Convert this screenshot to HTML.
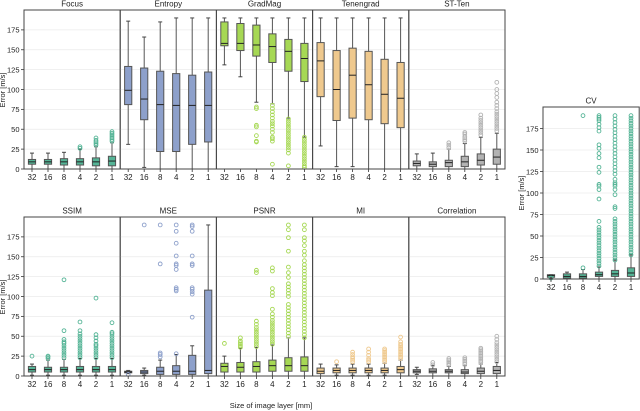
<!DOCTYPE html>
<html><head><meta charset="utf-8"><style>
body{margin:0;background:#fff}
svg{display:block;font-family:"Liberation Sans",sans-serif}
</style></head><body>
<svg id="chart" width="640" height="411" viewBox="0 0 640 411"></svg>
<script>
const categories = ["32","16","8","4","2","1"];
const yTicks = [0,25,50,75,100,125,150,175];
// box stats: [whislo, q1, median, q3, whishi]
const focusBoxes = [[0,6,9,12,20],[0,6,9,12,20],[0,5,9,13,21],[0,5,9,13,25],[0,4,9,14,28],[0,4,10,16,33]];
const focusOutliers = [[],[],[],[26,28],[30,32,34,36,39],[35,37,39,41,43,45,47]];
const entropyBoxes = [[31,81,99,129,186],[2,62,88,127,166],[0,22,81,123,185],[0,22,80,120,190],[0,31,80,118,190],[0,34,80,122,190]];
const entropyOutliers = [[],[],[],[],[],[]];
const gradmagBoxes = [[131,155,158,185,190],[116,149,158,183,190],[84,142,156,181,190],[82,134,154,170,190],[64,123,148,163,190],[40,110,139,158,190]];
const gradmagOutliers = [[],[],[78,76,55,53,42,35,34],[80,76,72,68,64,60,57,54,50,46,40,38,35,6],[63,60,57,54,51,48,45,42,39,36,33,30,27,24,20,4],[40,37,34,31,28,25,22,19,16,13,10,7,4,2]];
const tenengradBoxes = [[29,91,136,159,190],[3,61,100,149,190],[3,64,118,152,190],[0,62,106,148,190],[0,57,94,138,190],[0,52,89,134,190]];
const tenengradOutliers = [[],[],[],[],[],[]];
const stBoxes = [[0,4,7,10,19],[0,3,6,9,20],[0,3,8,11,25],[0,3,9,16,32],[0,5,11,19,40],[0,6,15,25,45]];
const stOutliers = [[],[],[27,30,33],[35,37,39,41,44,46],[43,46,49,52,55,58,61,64,68],[48,51,54,57,60,63,66,69,72,76,80,84,90,95,100,109]];
const ssimBoxes = [[1,5,8,12,15],[1,5,8,11,20],[1,5,8,11,21],[1,5,8,12,22],[1,5,8,12,22],[1,5,8,12,22]];
const ssimOutliers = [[25],[22,24,25],[23,26,29,32,35,38,41,43,46,57,121],[23,26,29,32,35,38,41,44,47,50,53,57,68],[23,26,29,32,35,38,40,44,48,52,98],[23,26,29,32,35,38,41,44,47,50,53,55,67]];
const mseBoxes = [[3,4,5,6,7],[1,3,5,7,10],[0,2,6,11,20],[0,2,6,13,27],[0,2,6,26,38],[0,3,7,108,190]];
const mseOutliers = [[2],[190],[24,27,29,141,190],[28,107,109,111,134,139,141,151,167,182,190],[74,103,106,109,111,139,141,151,182,188,190],[]];
const psnrBoxes = [[0,5,12,16,25],[0,5,11,17,35],[0,5,12,18,36],[0,6,13,20,39],[0,6,13,23,48],[0,6,13,24,48]];
const psnrOutliers = [[41],[36,38,40,42,44,48],[37,40,43,46,49,52,55,58,61,65,69,130,133],[40,43,46,49,52,55,58,61,64,67,70,74,78,84,101,105,110,132,136],[50,54,58,62,66,70,74,78,82,86,90,100,104,108,112,116,124,130,137,157,174,184,190],[48,52,56,60,64,68,72,76,80,84,88,92,96,100,104,108,112,116,120,124,128,132,136,140,145,152,157,164,170,174,184,190]];
const miBoxes = [[0,3,6,10,15],[1,4,7,10,14],[1,4,7,10,15],[1,4,7,10,15],[1,4,7,10,16],[0,4,8,12,20]];
const miOutliers = [[],[18],[18,20,22,24,27,30],[18,20,22,26,30,34],[18,20,22,24,26,28,30,32,34],[22,24,26,28,30,32,34,36,38,40,43,49]];
const corrBoxes = [[2,4,6,8,11],[0,4,6,9,13],[0,4,6,8,12],[0,3,5,8,13],[0,3,6,10,15],[0,3,7,12,17]];
const corrOutliers = [[],[14,17],[14,16,18,20,22],[15,17,19,21,23],[17,19,21,23,25,27,29,31,33,35],[18,21,24,27,30,33,36,39,42,46,50]];
const cvBoxes = [[1,2,4,5,5],[0,1,3,6,8],[0,1,3,6,11],[0,3,5,8,14],[0,3,6,10,22],[0,3,7,13,28]];
const cvOutliers = [[1],[],[13,190],[15,18,21,24,27,30,33,36,39,42,45,48,51,54,57,60,67,93,104,108,110,124,130,141,146,152,156,172,176,180,184,186,188,190],
 [22,25,28,31,34,37,40,43,46,49,52,55,58,61,64,67,70,82,84,98,104,108,110,112,116,122,126,130,134,138,142,146,150,154,158,162,166,170,174,178,182,186,190],
 [28,31,34,37,40,43,46,49,52,55,58,61,64,67,70,73,76,79,82,85,88,91,94,97,100,103,106,109,112,115,118,121,124,127,130,133,136,139,142,145,148,151,154,157,160,163,166,169,172,175,178,181,184,187,190]];

const panels = [
 {t:"Focus",b:focusBoxes,o:focusOutliers,c:"#55b496",x:24,y0:10,y1:169,yt:true},
 {t:"Entropy",b:entropyBoxes,o:entropyOutliers,c:"#8da0cb",x:120.2,y0:10,y1:169},
 {t:"GradMag",b:gradmagBoxes,o:gradmagOutliers,c:"#a6d854",x:216.4,y0:10,y1:169},
 {t:"Tenengrad",b:tenengradBoxes,o:tenengradOutliers,c:"#efc98e",x:312.6,y0:10,y1:169},
 {t:"ST-Ten",b:stBoxes,o:stOutliers,c:"#b3b3b3",x:408.8,y0:10,y1:169},
 {t:"SSIM",b:ssimBoxes,o:ssimOutliers,c:"#55b496",x:24,y0:217,y1:376,yt:true},
 {t:"MSE",b:mseBoxes,o:mseOutliers,c:"#8da0cb",x:120.2,y0:217,y1:376},
 {t:"PSNR",b:psnrBoxes,o:psnrOutliers,c:"#a6d854",x:216.4,y0:217,y1:376},
 {t:"MI",b:miBoxes,o:miOutliers,c:"#efc98e",x:312.6,y0:217,y1:376},
 {t:"Correlation",b:corrBoxes,o:corrOutliers,c:"#b3b3b3",x:408.8,y0:217,y1:376},
 {t:"CV",b:cvBoxes,o:cvOutliers,c:"#55b496",x:543,y0:107,y1:279,yt:true}
];
const W = 96.2, YMAX = 200;
const svg = document.getElementById('chart');
const NS = "http://www.w3.org/2000/svg";
function mk(tag, attrs, parent){const e=document.createElementNS(NS,tag);for(const k in attrs)e.setAttribute(k,attrs[k]);(parent||svg).appendChild(e);return e;}

panels.forEach(p=>{
  const g = mk('g',{});
  
  
  const yS = v => p.y1 - v*(p.y1-p.y0)/YMAX;
  const xS = i => p.x + 8 + i*16;
  yTicks.forEach(v=>{
    const gl = mk('line',{x1:p.x,x2:p.x+W,y1:yS(v),y2:yS(v),stroke:"#ebebeb","stroke-width":0.8},g);
    
    
    if(p.yt){
      mk('line',{x1:p.x-3,x2:p.x,y1:yS(v),y2:yS(v),stroke:"#333","stroke-width":0.8},g);
      const tl = mk('text',{x:p.x-4.5,y:yS(v)+2.8,"font-size":7.5,"text-anchor":"end",fill:"#222"},g);
      tl.textContent = v;
      
      
    }
  });
  const title = mk('text',{x:p.x+W/2,y:p.y0-3.5,"font-size":8,"text-anchor":"middle",fill:"#222"},g);
  title.textContent = p.t;
  
  
  p.b.forEach((s,i)=>{
    const cx = xS(i);
    const bg = mk('g',{},g);
    
    
    mk('line',{x1:cx,x2:cx,y1:yS(s[0]),y2:yS(s[1]),stroke:"#555","stroke-width":1},bg);
    mk('line',{x1:cx,x2:cx,y1:yS(s[3]),y2:yS(s[4]),stroke:"#555","stroke-width":1},bg);
    mk('line',{x1:cx-2,x2:cx+2,y1:yS(s[0]),y2:yS(s[0]),stroke:"#444","stroke-width":1},bg);
    mk('line',{x1:cx-2,x2:cx+2,y1:yS(s[4]),y2:yS(s[4]),stroke:"#444","stroke-width":1},bg);
    mk('rect',{x:cx-3.6,y:yS(s[3]),width:7.2,height:Math.max(0.5,yS(s[1])-yS(s[3])),fill:p.c,stroke:"#555","stroke-width":1},bg);
    mk('line',{x1:cx-3.6,x2:cx+3.6,y1:yS(s[2]),y2:yS(s[2]),stroke:"#222","stroke-width":1},bg);
    (p.o[i]||[]).forEach(v=>{
      const c = mk('circle',{cx:cx,cy:yS(v),r:1.9,fill:"none",stroke:p.c,"stroke-width":0.9},bg);
      
      
    });
    mk('line',{x1:cx,x2:cx,y1:p.y1,y2:p.y1+3,stroke:"#333","stroke-width":0.8},g);
    const xl = mk('text',{x:cx,y:p.y1+11,"font-size":8,"text-anchor":"middle",fill:"#222"},g);
    xl.textContent = categories[i];
    
    
  });
  const fr = mk('rect',{x:p.x,y:p.y0,width:W,height:p.y1-p.y0,fill:"none",stroke:"#444","stroke-width":1},g);
  
  
});
function lab(txt,x,y,rot,name){
  const t = mk('text',{x:x,y:y,"font-size":7.5,"text-anchor":"middle",fill:"#222",transform:rot?`rotate(-90 ${x} ${y})`:""});
  t.textContent = txt;
  
  
}
lab("Error [m/s]",5,90,true,"y-axis-title-top");
lab("Error [m/s]",5,297,true,"y-axis-title-bottom");
lab("Error [m/s]",524,193,true,"y-axis-title-cv");
lab("Size of image layer [mm]",271,408,false,"x-axis-title");
</script>
</body></html>
